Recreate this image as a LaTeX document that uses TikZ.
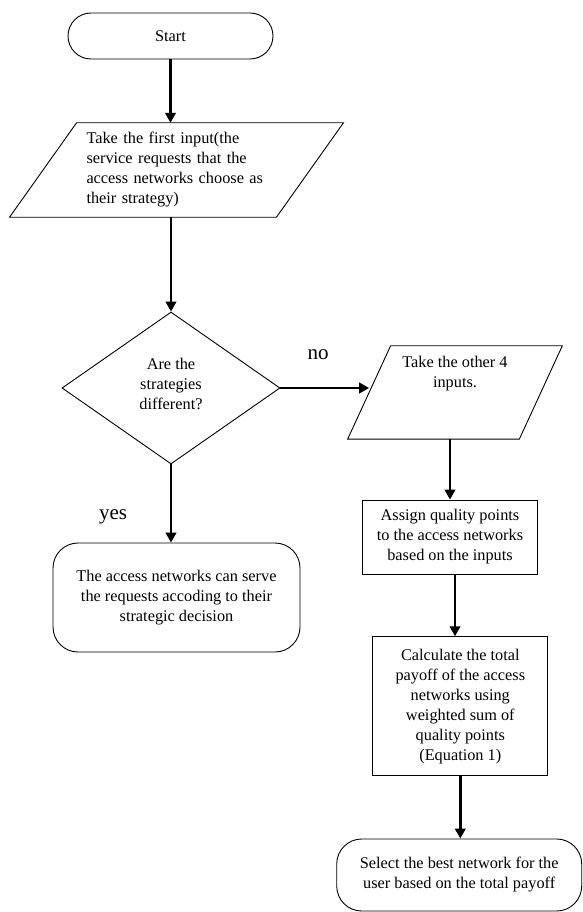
\documentclass[tikz,border=0pt]{standalone}
\usepackage{fontspec}
\setmainfont{Liberation Serif}
\usetikzlibrary{arrows.meta,shapes.geometric}
\begin{document}
\begin{tikzpicture}[x=1pt,y=-1pt,
  every node/.style={font=\fontsize{16.3}{20}\selectfont, inner sep=0pt},
  outline/.style={draw=black, line width=0.9pt},
  procbox/.style={outline, rectangle, align=center},
  termbox/.style={outline, rectangle, rounded corners=#1, align=center},
  parabody/.style={rectangle},
  decbox/.style={outline, diamond, align=center, inner sep=3pt},
  flow/.style={draw=black, line width=2.8pt, -{Triangle[length=10pt,width=10.5pt]}},
  lbl/.style={font=\fontsize{21}{24}\selectfont}
]
\useasboundingbox (0,0) rectangle (582,912);

% nodes
\node[termbox=23pt, minimum width=205pt, minimum height=46pt] (start) at (170.5,36) {Start};

\node[parabody, minimum width=266.5pt, minimum height=94pt, text width=180pt, align=left] (p1) at (176.5,170)
  {Take the first input(the\\service requests that the\\access networks choose as\\their strategy)};
\draw[outline] ([xshift=33.5pt]p1.north west) -- ([xshift=33.5pt]p1.north east)
  -- ([xshift=-33.5pt]p1.south east) -- ([xshift=-33.5pt]p1.south west) -- cycle;

\node[decbox, minimum width=218pt, minimum height=152pt] (d) at (171,388) {\strut};
\node[align=center] (dt) at (171,384) {Are the\\strategies\\different?};

\node[parabody, minimum width=171.3pt, minimum height=93pt] (p2) at (455,392.4) {};
\draw[outline] ([xshift=21.5pt]p2.north west) -- ([xshift=21.5pt]p2.north east)
  -- ([xshift=-21.5pt]p2.south east) -- ([xshift=-21.5pt]p2.south west) -- cycle;
\node[align=center] (p2t) at (455,374) {Take the other 4\\inputs.};

\node[procbox, minimum width=175pt, minimum height=74pt] (r1) at (450,537)
  {Assign quality points\\to the access networks\\based on the inputs};

\node[procbox, minimum width=175pt, minimum height=139pt] (r2) at (460.3,706.2)
  {Calculate the total\\payoff of the access\\networks using\\weighted sum of\\quality points\\(Equation 1)};

\node[termbox=25pt, minimum width=247pt, minimum height=109pt] (t3) at (176.5,597.5)
  {The access networks can serve\\the requests accoding to their\\strategic decision};

\node[termbox=25pt, minimum width=245pt, minimum height=72pt] (t2) at (459.2,875)
  {Select the best network for the\\user based on the total payoff};

\node[lbl] (no) at (318,355) {no};
\node[lbl] (yes) at (113,517) {yes};

% connectors
\draw[flow] (start.south) -- (start.south |- p1.north);
\draw[flow] (d.north |- p1.south) -- (d.north);
\draw[flow] (d.east) -- (p2.west |- d.east);
\draw[flow] (d.south) -- (d.south |- t3.north);
\draw[flow] (r1.north |- p2.south) -- (r1.north);
\coordinate (r1out) at ([xshift=5pt]r1.south);
\draw[flow] (r1out) -- (r1out |- r2.north);
\draw[flow] (r2.south) -- (r2.south |- t2.north);
\end{tikzpicture}
\end{document}
